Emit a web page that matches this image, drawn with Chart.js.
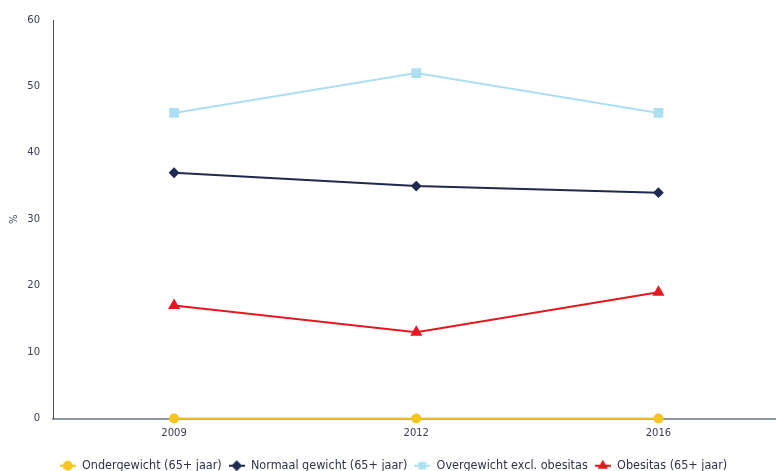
<!DOCTYPE html>
<html>
<head>
<meta charset="utf-8">
<script src="https://cdn.jsdelivr.net/npm/chart.js@4.4.1/dist/chart.umd.min.js"></script>
<style>
  html, body { margin: 0; padding: 0; background: #ffffff; overflow: hidden; }
  canvas { display: block; }
</style>
</head>
<body>
<canvas id="chart" width="787" height="484"></canvas>
<script>
// Gewichtsklassen bij 65-plussers, in procenten per meetjaar
const years = ['2009', '2012', '2016'];
const ondergewicht = [0, 0, 0];
const normaalGewicht = [37, 35, 34];
const overgewicht = [46, 52, 46];
const obesitas = [17, 13, 19];
const yTicks = [0, 10, 20, 30, 40, 50, 60];

const seriesNames = [
  'Ondergewicht (65+ jaar)',
  'Normaal gewicht (65+ jaar)',
  'Overgewicht excl. obesitas',
  'Obesitas (65+ jaar)'
];
const seriesColors = ['#f7c51e', '#1e2a4f', '#addff4', '#e8171f'];
const seriesMarkers = ['circle', 'rectRot', 'rect', 'triangle'];
const markerRadius = [4, 4, 5.5, 5];

// Legend symbol: a short line with the series marker in the middle
function legendSymbol(color, style) {
  const c = document.createElement('canvas');
  c.width = 16; c.height = 12;
  const ctx = c.getContext('2d');
  ctx.strokeStyle = color;
  ctx.lineWidth = 2;
  ctx.beginPath();
  ctx.moveTo(0, 6); ctx.lineTo(16, 6);
  ctx.stroke();
  Chart.helpers.drawPoint(ctx, {
    pointStyle: style, radius: 4, borderWidth: 1, rotation: 0
  }, 8, 6);
  ctx.fillStyle = color;
  ctx.fill();
  return c;
}

function makeDataset(i, values) {
  return {
    label: seriesNames[i],
    data: values,
    borderColor: seriesColors[i],
    backgroundColor: seriesColors[i],
    pointBackgroundColor: seriesColors[i],
    pointBorderColor: seriesColors[i],
    pointStyle: seriesMarkers[i],
    pointRadius: markerRadius[i],
    pointHoverRadius: markerRadius[i],
    borderWidth: 2,
    tension: 0,
    clip: false
  };
}

const datasets = [
  makeDataset(0, ondergewicht),
  makeDataset(1, normaalGewicht),
  makeDataset(2, overgewicht),
  makeDataset(3, obesitas)
];

new Chart(document.getElementById('chart'), {
  type: 'line',
  data: { labels: years, datasets: datasets },
  options: {
    responsive: false,
    animation: false,
    layout: { padding: { top: 20, left: 0, right: 0, bottom: 2 } },
    plugins: {
      tooltip: { enabled: false },
      legend: {
        position: 'bottom',
        align: 'center',
        labels: {
          usePointStyle: true,
          pointStyleWidth: 16,
          padding: 7,
          color: '#2e3446',
          font: { family: '"DejaVu Sans Condensed", "DejaVu Sans", sans-serif', size: 12.5 },
          generateLabels(chart) {
            return chart.data.datasets.map((ds, i) => ({
              text: ds.label,
              fillStyle: seriesColors[i],
              strokeStyle: seriesColors[i],
              fontColor: '#2e3446',
              lineWidth: 0,
              pointStyle: legendSymbol(seriesColors[i], seriesMarkers[i]),
              hidden: false,
              datasetIndex: i
            }));
          }
        }
      }
    },
    scales: {
      x: {
        offset: true,
        grid: { display: false, drawTicks: false },
        border: { display: true, color: '#8d96a3', width: 2 },
        // empty title only reserves a little room above the legend
        title: {
          display: true,
          text: '',
          padding: 0,
          font: { size: 4, lineHeight: 1 }
        },
        ticks: {
          color: '#3b4152',
          padding: 9,
          font: { family: '"DejaVu Sans", sans-serif', size: 10 }
        }
      },
      y: {
        min: 0,
        max: 60,
        afterBuildTicks(scale) {
          scale.ticks = yTicks.map(v => ({ value: v }));
        },
        afterFit(scale) { scale.width = 53; },
        grid: { display: false, drawTicks: false },
        border: { display: true, color: '#4a4f5c', width: 1 },
        title: {
          display: true,
          text: '%',
          color: '#3b4152',
          padding: { top: 8, bottom: 0 },
          font: { family: '"DejaVu Sans", sans-serif', size: 10 }
        },
        ticks: {
          color: '#3b4152',
          padding: 13,
          font: { family: '"DejaVu Sans", sans-serif', size: 10 }
        }
      }
    }
  }
});
</script>
</body>
</html>
